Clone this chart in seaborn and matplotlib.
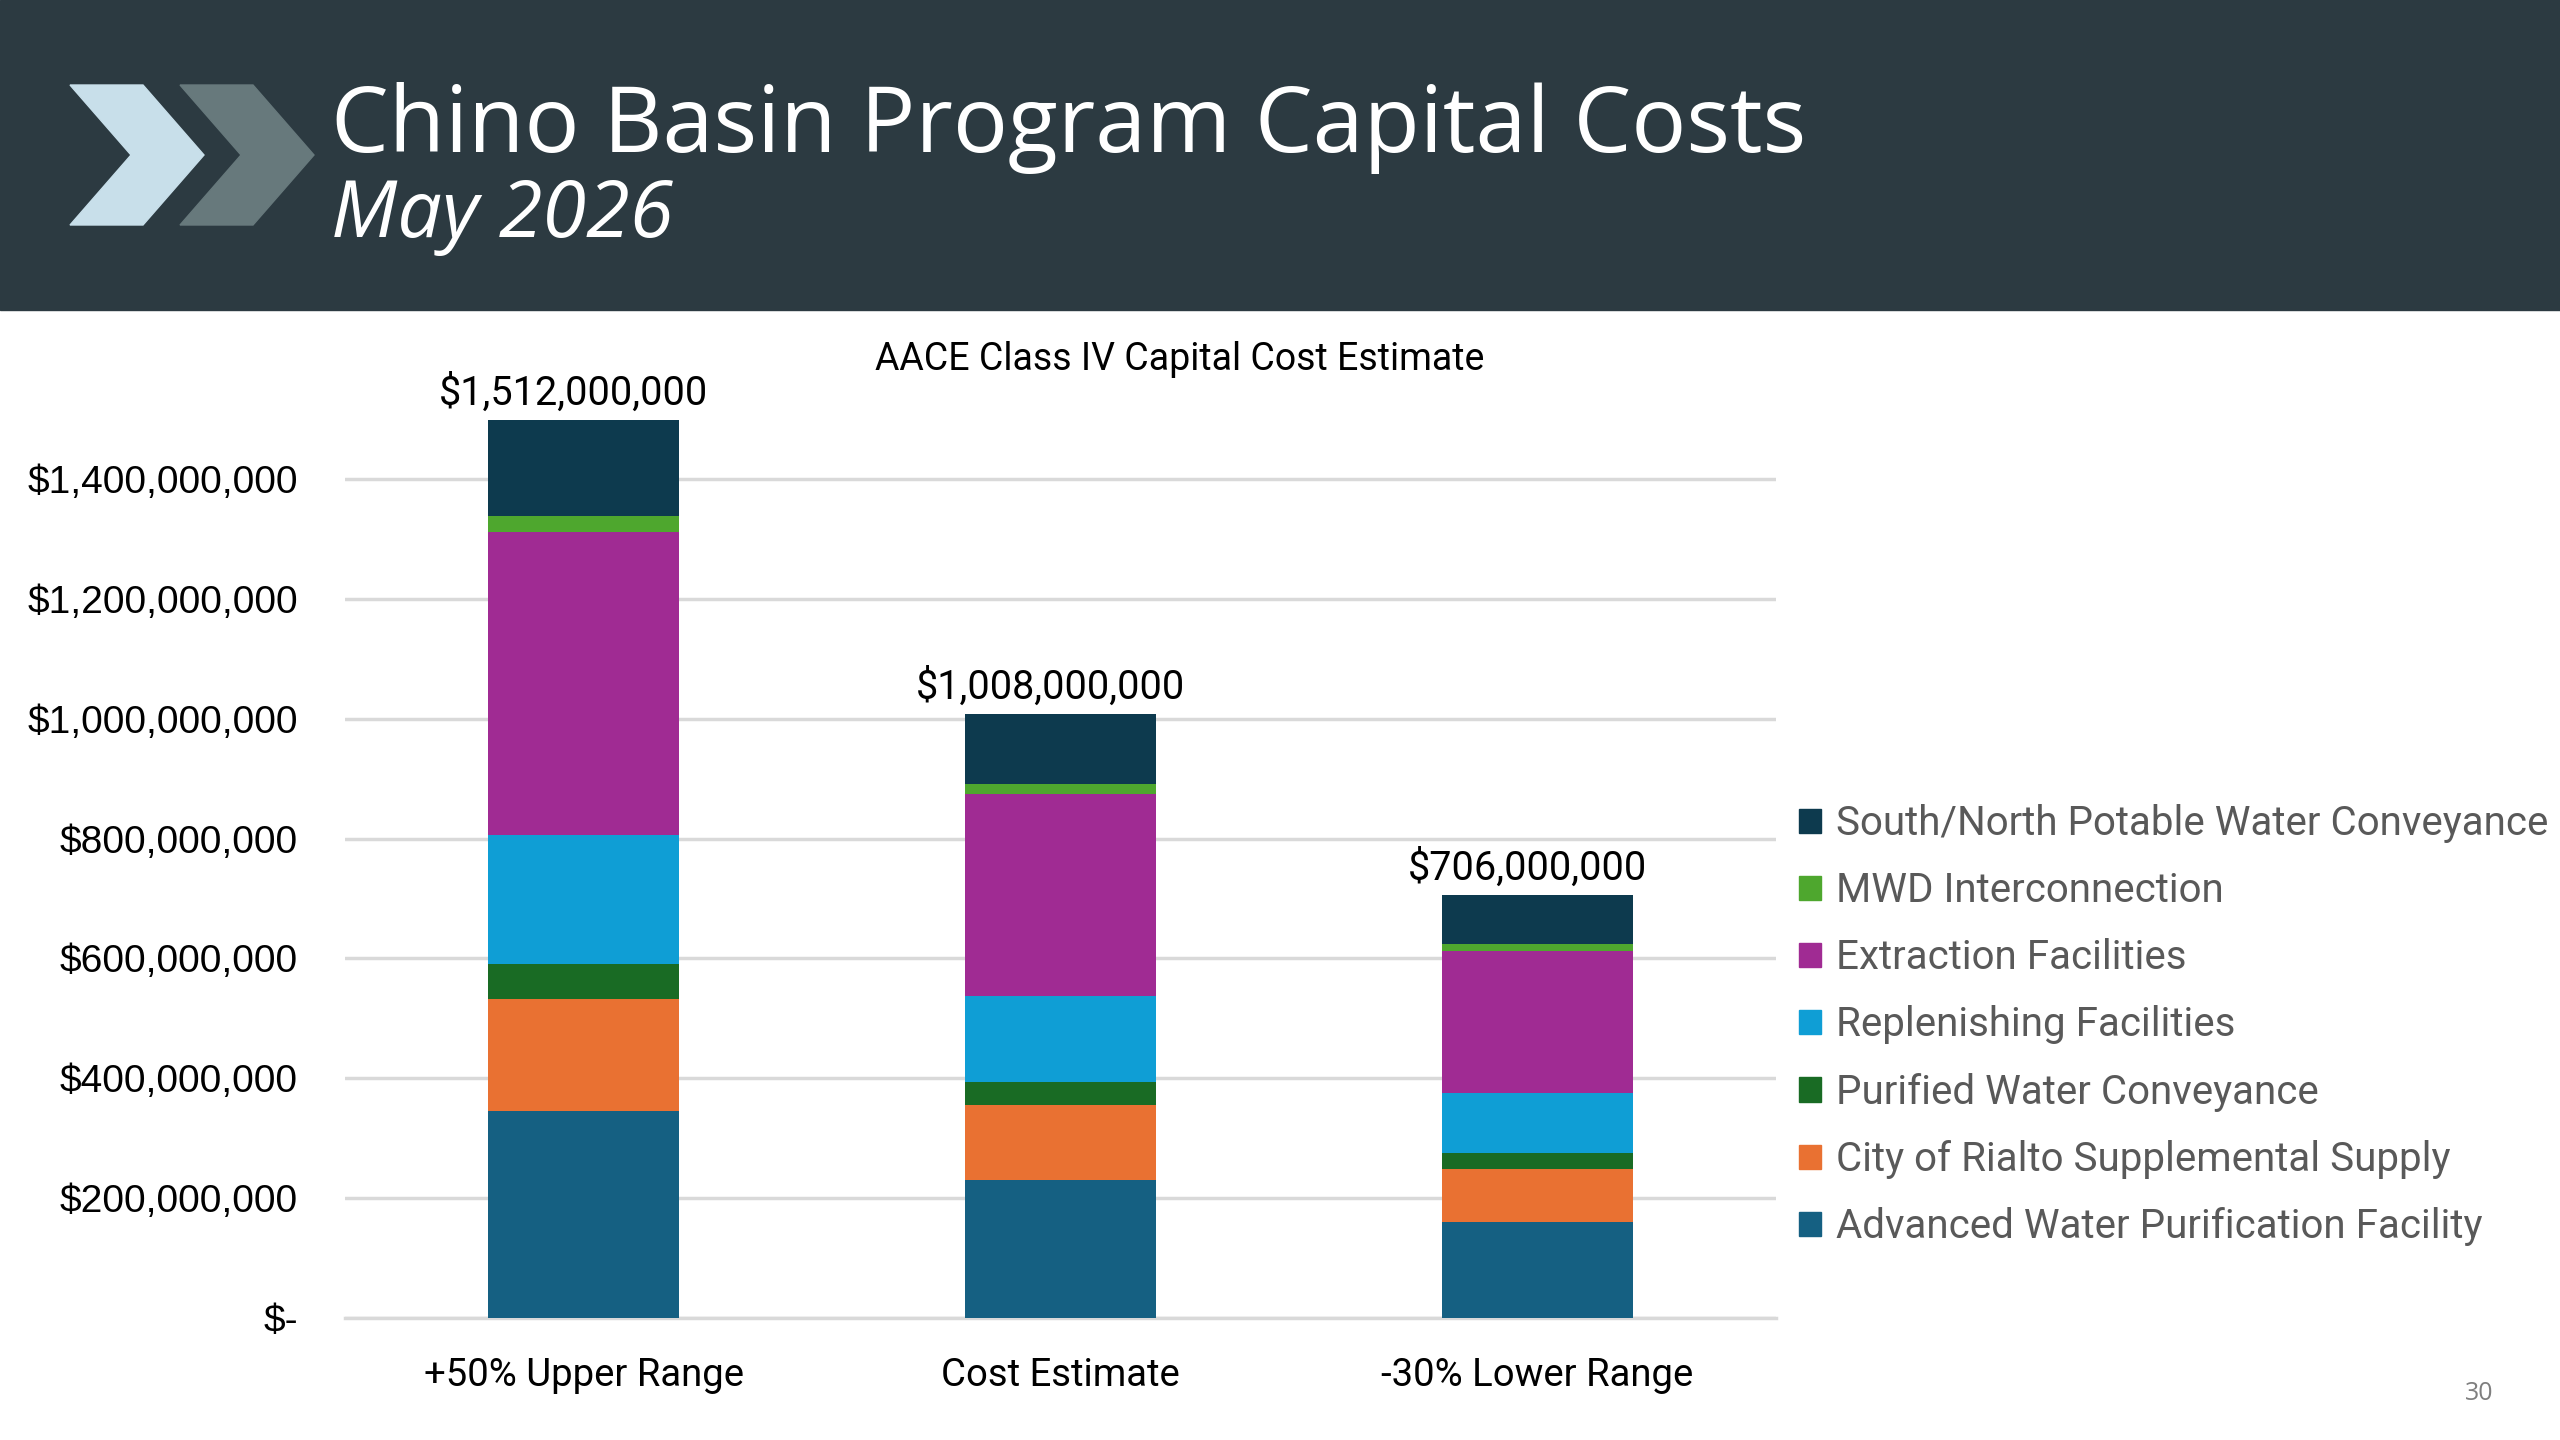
import numpy as np
import pandas as pd
import matplotlib
matplotlib.use("Agg")
import matplotlib.pyplot as plt
import matplotlib.patches as mpatches
from matplotlib.ticker import FuncFormatter
import seaborn as sns

# ----------------------------------------------------------------------
# data (in $ millions)
# ----------------------------------------------------------------------
scenarios = ["+50% Upper Range", "Cost Estimate", "-30% Lower Range"]
total_labels = ["$1,512,000,000", "$1,008,000,000", "$706,000,000"]

# bottom -> top stacking order
components = [
    "Advanced Water Purification Facility",
    "City of Rialto Supplemental Supply",
    "Purified Water Conveyance",
    "Replenishing Facilities",
    "Extraction Facilities",
    "MWD Interconnection",
    "South/North Potable Water Conveyance",
]
awpf = [345, 230, 161]
rialto = [187, 125, 88]
purified = [59, 39, 27]
replenishing = [215, 143, 100]
extraction = [505, 337, 236]
mwd = [27, 17, 12]
potable = [160, 117, 82]

colors = ["#156082", "#E97132", "#196B24", "#0F9ED5", "#A02B93", "#4EA72E", "#0D3A4E"]

values = [awpf, rialto, purified, replenishing, extraction, mwd, potable]
df = pd.DataFrame({name: v for name, v in zip(components, values)}, index=scenarios)
df = df * 1e6
cum = df.cumsum(axis=1)

NARROW = ["Liberation Sans Narrow", "Roboto", "DejaVu Sans"]

sns.set_theme(style="white")
plt.rcParams["font.family"] = ["Liberation Sans", "DejaVu Sans"]

fig = plt.figure(figsize=(25.6, 14.4), dpi=100)
fig.patch.set_facecolor("white")

# header band + chevrons
fig.add_artist(mpatches.Rectangle((0, 1 - 310 / 1440), 1, 310 / 1440,
                                  transform=fig.transFigure, color="#2C3A41", zorder=0))


def chevron(x0, color):
    pts = [(x0, 85), (x0 + 73, 85), (x0 + 134, 155), (x0 + 73, 225), (x0, 225), (x0 + 61, 155)]
    pts = [(px / 2560, 1 - py / 1440) for px, py in pts]
    fig.add_artist(mpatches.Polygon(pts, closed=True, transform=fig.transFigure,
                                    color=color, zorder=1))


chevron(70, "#C8DFEA")
chevron(180, "#67797C")

fig.text(331 / 2560, 1 - 152 / 1440, "Chino Basin Program Capital Costs", color="white",
         fontsize=66, family=["Open Sans", "DejaVu Sans"], va="baseline")
fig.text(331 / 2560, 1 - 237 / 1440, "May 2026", color="white", fontsize=57,
         style="italic", family=["Open Sans", "DejaVu Sans"], va="baseline")
fig.text(2493 / 2560, 1 - 1400 / 1440, "30", color="#7F7F7F", fontsize=18,
         family=["Open Sans", "DejaVu Sans"], ha="right")

# chart
ax = fig.add_axes([345 / 2560, 1 - 1318 / 1440, (1776 - 345) / 2560, (1318 - 359) / 1440])
for name, color in zip(components[::-1], colors[::-1]):
    sns.barplot(x=scenarios, y=cum[name].values, order=scenarios, color=color,
                width=0.4, saturation=1, ax=ax, zorder=3, edgecolor="none",
                label=name)

ax.set_xlim(-0.5, 2.5)
ax.set_ylim(0, 1.6e9)
ax.set_yticks(np.arange(0, 1.41e9, 2e8))
ax.yaxis.set_major_formatter(FuncFormatter(
    lambda v, p: "$-" if v == 0 else f"${v:,.0f}"))
ax.grid(axis="y", color="#D9D9D9", linewidth=2.5, zorder=0)
for s in ["top", "right", "left"]:
    ax.spines[s].set_visible(False)
ax.spines["bottom"].set_color("#D9D9D9")
ax.spines["bottom"].set_linewidth(2.5)
ax.tick_params(axis="y", labelsize=28, pad=34, length=0, colors="black")
ax.tick_params(axis="x", labelsize=27.5, pad=28, length=0, colors="black")
for lbl in ax.get_xticklabels():
    lbl.set_family(NARROW)
ax.set_xlabel("")
ax.set_ylabel("")

totals = cum[components[-1]].values
for i, (t, txt) in enumerate(zip(totals, total_labels)):
    ax.text(i - 0.02, t + 0.012e9, txt, ha="center", va="bottom", fontsize=28.5,
            family=NARROW, color="black")

ax.text(1.25, 1.6e9, "AACE Class IV Capital Cost Estimate", ha="center",
        va="center", fontsize=27, family=NARROW, color="black")

handles = [mpatches.Patch(color=c, label=n) for n, c in zip(components[::-1], colors[::-1])]
ax.legend(handles=handles, loc="center left", bbox_to_anchor=(1763 / 2560, 1 - 1025 / 1440),
          bbox_transform=fig.transFigure, frameon=False, handlelength=0.55,
          handleheight=0.55, handletextpad=0.35, labelspacing=0.7,
          prop={"family": NARROW, "size": 29}, labelcolor="#595959")

fig.savefig("out.png", dpi=100)
